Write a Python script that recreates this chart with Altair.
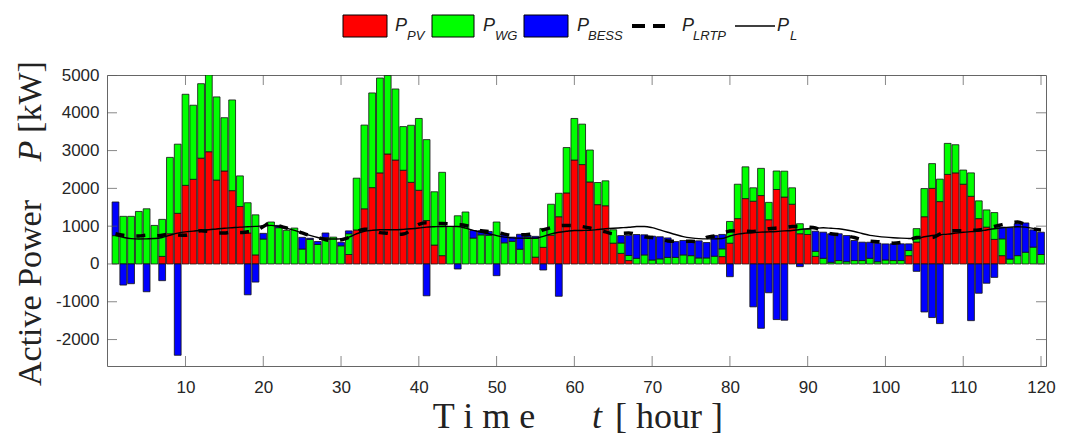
import altair as alt
import pandas as pd

# ---------------- data ----------------
hours = list(range(1, 121))

p_pv = [
    0, 0, 0, 0, 0, 0, 200, 800, 1340, 2080,
    2240, 2800, 2970, 2220, 2460, 1940, 1520, 820, 240, 0,
    0, 0, 0, 0, 0, 0, 0, 0, 0, 0,
    250, 900, 1460, 2020, 2410, 2910, 2750, 2480, 2160, 1950,
    1150, 500, 220, 0, 0, 0, 0, 0, 0, 0,
    0, 0, 0, 0, 180, 440, 760, 1250, 1880, 2750,
    2630, 2170, 1570, 1540, 550, 280, 90, 0, 0, 0,
    0, 0, 0, 0, 0, 0, 0, 0, 195, 550,
    1200, 1730, 1660, 1810, 1170, 1970, 1770, 1580, 800, 780,
    200, 0, 0, 0, 0, 0, 0, 0, 0, 0,
    0, 0, 220, 580, 1250, 2000, 1650, 2370, 2410, 2110,
    1790, 1200, 975, 650, 220, 0, 0, 0, 0, 0,
]

p_wg = [
    750, 1260, 1260, 1390, 1460, 1020, 980, 2020, 1830, 2410,
    1960, 1970, 2030, 2200, 1410, 2400, 810, 800, 1060, 660,
    1110, 960, 890, 950, 395, 650, 515, 700, 710, 480,
    550, 1370, 2215, 2505, 2510, 2080, 1880, 1155, 1510, 1900,
    2140, 1410, 2205, 990, 1275, 1375, 685, 770, 760, 1110,
    560, 600, 390, 715, 500, 500, 820, 620, 1200, 1100,
    1070, 845, 585, 660, 355, 275, 135, 150, 240, 105,
    135, 175, 175, 240, 220, 160, 160, 205, 205, 575,
    910, 840, 355, 720, 460, 490, 685, 435, 265, 135,
    135, 150, 45, 90, 60, 90, 90, 150, 60, 105,
    90, 90, 135, 355, 745, 655, 595, 820, 745, 375,
    620, 470, 455, 710, 445, 130, 220, 310, 445, 250,
]

p_bess = [
    890, -558, -522, 0, -735, 0, -442, 0, -2416, 0,
    0, 0, 0, 0, 0, 0, 0, -816, -479, 150,
    0, 60, 0, 0, 310, 30, 80, 120, 0, 95,
    75, 0, 0, 0, 0, 0, 0, 0, 0, 0,
    -842, 0, 0, 0, -133, 0, 200, 110, 100, -310,
    222, 110, 395, 40, 50, -160, 0, -855, 0, 0,
    0, 0, 0, 0, 0, 196, 532, 629, 532, 630,
    585, 514, 417, 381, 372, 452, 407, 550, 381, -337,
    0, 0, -1135, -1702, -762, -1472, -1489, 0, -71, 0,
    532, 691, 754, 709, 692, 531, 487, 425, 488, 426,
    443, 443, 177, -195, -1270, -1418, -1578, 0, 0, 0,
    -1500, -775, -510, -355, 310, 830, 843, 775, 457, 590,
]

p_l = [
    753, 705, 670, 660, 665, 672, 700, 760, 815, 850,
    869, 890, 904, 925, 945, 960, 975, 985, 995, 1010,
    1020, 990, 950, 890, 820, 755, 700, 665, 660, 665,
    710, 800, 865, 890, 904, 905, 905, 915, 930, 950,
    975, 985, 993, 995, 990, 950, 890, 840, 800, 750,
    710, 690, 683, 680, 683, 730, 795, 840, 865, 885,
    887, 890, 910, 930, 945, 957, 970, 990, 993, 960,
    900, 840, 780, 725, 690, 670, 665, 665, 672, 740,
    790, 815, 830, 842, 850, 860, 875, 887, 910, 930,
    945, 957, 945, 930, 900, 860, 805, 755, 730, 710,
    695, 683, 675, 668, 720, 753, 775, 790, 815, 840,
    855, 870, 900, 930, 955, 975, 985, 975, 940, 890,
]

p_lrtp = [
    800, 760, 740, 740, 760, 740, 760, 790, 770, 760,
    830, 880, 860, 820, 820, 850, 830, 850, 870, 990,
    1090, 1010, 950, 900, 820, 750, 700, 640, 620, 640,
    700, 850, 920, 900, 830, 810, 780, 790, 900, 1050,
    1090, 1070, 1070, 1060, 1040, 1020, 950, 880, 860, 840,
    790, 760, 770, 780, 800, 900, 960, 1010, 1020, 1020,
    990, 950, 900, 850, 800, 810, 820, 780, 720, 700,
    660, 610, 600, 600, 600, 590, 700, 740, 800, 870,
    880, 870, 860, 880, 930, 950, 960, 990, 990, 975,
    950, 860, 800, 780, 740, 700, 640, 600, 590, 570,
    550, 570, 620, 700, 700, 700, 790, 870, 880, 880,
    890, 900, 930, 990, 1040, 1090, 1110, 1040, 930, 900,
]

series_names = ["PV", "WG", "BESS"]
series_colors = ["#ff0000", "#00ff00", "#0000ff"]
x_ticks = [10, 20, 30, 40, 50, 60, 70, 80, 90, 100, 110, 120]
y_ticks = [-2000, -1000, 0, 1000, 2000, 3000, 4000, 5000]

# ---------------- tables ----------------
rows = []
for i, h in enumerate(hours):
    for k, (name, vals) in enumerate(zip(series_names, [p_pv, p_wg, p_bess])):
        v = vals[i]
        if v != 0:
            rows.append({"hour": h, "series": name, "ord": k, "value": v})
bars_df = pd.DataFrame(rows)
lines_df = pd.DataFrame({"hour": hours, "p_l": p_l, "p_lrtp": p_lrtp})
xt_df = pd.DataFrame({"hour": x_ticks})
yt_df = pd.DataFrame({"value": y_ticks})
dummy = pd.DataFrame({"k": [0]})

W, H = 939, 291
xs = alt.Scale(domain=[0.55, 120], nice=False, zero=False)
ys = alt.Scale(domain=[-2700, 5000], nice=False, zero=False)
LAB = "#262626"

xa = alt.Axis(values=x_ticks, labelExpr="toString(datum.value)", ticks=False, domain=False, grid=False,
              labelFont="Liberation Sans", labelFontSize=17, labelColor=LAB,
              labelPadding=13, labelFlush=False, title=None)
ya = alt.Axis(values=y_ticks, labelExpr="toString(datum.value)", ticks=False, domain=False, grid=False,
              labelFont="Liberation Sans", labelFontSize=17, labelColor=LAB,
              labelPadding=8, labelFlush=False, title=None)

bars = alt.Chart(bars_df).mark_bar(
    width=6.8, stroke="#111111", strokeWidth=0.8, clip=True
).encode(
    x=alt.X("hour:Q", scale=xs, axis=xa),
    y=alt.Y("value:Q", scale=ys, stack="zero", axis=ya),
    color=alt.Color("series:N", scale=alt.Scale(domain=series_names, range=series_colors), legend=None),
    order=alt.Order("ord:Q", sort="ascending"),
)

line_l = alt.Chart(lines_df).mark_line(
    color="black", strokeWidth=1.4, interpolate="monotone", clip=True
).encode(
    x=alt.X("hour:Q", scale=xs, axis=xa),
    y=alt.Y("p_l:Q", scale=ys, axis=ya),
)

line_lrtp = alt.Chart(lines_df).mark_line(
    color="black", strokeWidth=3.5, strokeDash=[9, 12], interpolate="monotone", clip=True
).encode(
    x=alt.X("hour:Q", scale=xs, axis=xa),
    y=alt.Y("p_lrtp:Q", scale=ys, axis=ya),
)

TICKC = "#555555"


def xtick(ypix):
    return alt.Chart(xt_df).mark_tick(orient="vertical", size=20, thickness=1, color=TICKC, clip=True).encode(
        x=alt.X("hour:Q", scale=xs, axis=xa), y=alt.value(ypix))


def ytick(xpix):
    return alt.Chart(yt_df).mark_tick(orient="horizontal", size=20, thickness=1, color=TICKC, clip=True).encode(
        y=alt.Y("value:Q", scale=ys, axis=ya), x=alt.value(xpix))


def txt(s, x, y, size, font, italic=False, angle=0, align="left", color="#222222"):
    kw = dict(text=s, fontSize=size, font=font, align=align, baseline="alphabetic", color=color)
    if italic:
        kw["fontStyle"] = "italic"
    if angle:
        kw["angle"] = angle
    return alt.Chart(dummy).mark_text(**kw).encode(x=alt.value(x), y=alt.value(y))


def box(x0, x1, col):
    return alt.Chart(dummy).mark_rect(color=col, stroke="black", strokeWidth=1).encode(
        x=alt.value(x0), x2=alt.value(x1), y=alt.value(-60), y2=alt.value(-38))


SANS = "Liberation Sans"
SERIF = "Liberation Serif"
legend = [
    box(236, 280, series_colors[0]),
    txt("P", 288, -44, 18, SANS, italic=True),
    txt("PV", 300, -35, 13, SANS, italic=True),
    box(325, 367, series_colors[1]),
    txt("P", 376, -44, 18, SANS, italic=True),
    txt("WG", 388, -35, 13, SANS, italic=True),
    box(417, 461, series_colors[2]),
    txt("P", 470, -44, 18, SANS, italic=True),
    txt("BESS", 481, -35, 13, SANS, italic=True),
    alt.Chart(dummy).mark_rule(color="black", strokeWidth=4, strokeDash=[13, 8]).encode(
        x=alt.value(525), x2=alt.value(558), y=alt.value(-49)),
    txt("P", 575, -44, 18, SANS, italic=True),
    txt("LRTP", 586, -35, 13, SANS, italic=True),
    alt.Chart(dummy).mark_rule(color="black", strokeWidth=1.4).encode(
        x=alt.value(628), x2=alt.value(668), y=alt.value(-49)),
    txt("P", 670, -44, 18, SANS, italic=True),
    txt("L", 683, -35, 13, SANS, italic=True),
]

titles = [
    txt("T i m e", 377, 353, 36, SERIF, align="center"),
    txt("t", 490, 353, 36, SERIF, italic=True, align="center"),
    txt("[ hour ]", 562, 353, 36, SERIF, align="center"),
    txt("Active  Power", -66, 218, 34, SERIF, angle=270, align="center"),
    txt("P", -66, 76, 34, SERIF, italic=True, angle=270, align="center"),
    txt("[kW]", -66, 22, 34, SERIF, angle=270, align="center"),
]

chart = alt.layer(
    bars, line_l, line_lrtp, xtick(0), xtick(H), ytick(0), ytick(W), *legend, *titles
).properties(
    width=W, height=H,
    padding={"left": 99, "top": 67, "right": 13, "bottom": 71},
    autosize=alt.AutoSizeParams(type="none"),
    background="white",
).configure_view(stroke="#666666", strokeWidth=1)

chart.save("out.html", embed_options={"renderer": "svg", "actions": False})
